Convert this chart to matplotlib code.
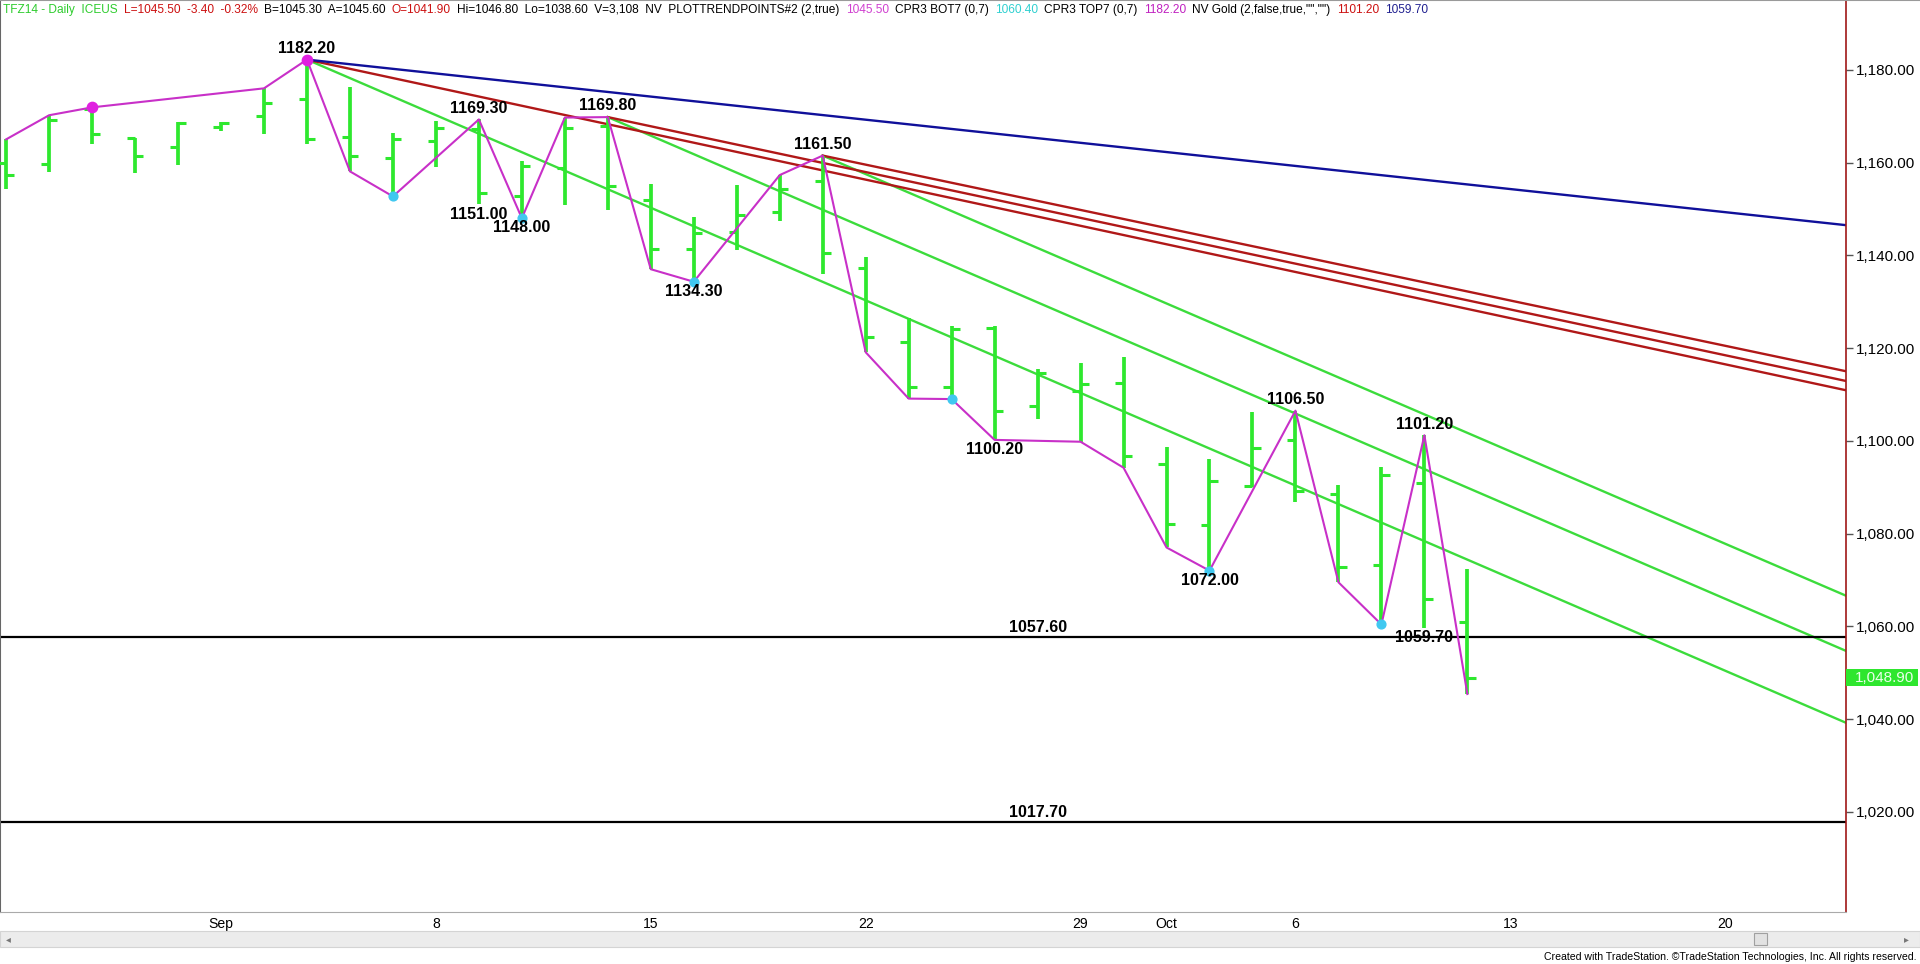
import numpy as np
import pandas as pd
import matplotlib
matplotlib.use("Agg")
from matplotlib import pyplot as plt
from matplotlib import font_manager
from matplotlib.patches import Rectangle
from matplotlib.lines import Line2D

installed = {f.name for f in font_manager.fontManager.ttflist}
if "Liberation Sans Narrow" in installed:
    narrow, nscale = "Liberation Sans Narrow", 1.0
else:
    narrow, nscale = "Liberation Sans", 0.84

# TFZ14 daily bars, Aug 25 - Oct 10 2014
dates = pd.bdate_range("2014-08-25", "2014-10-10")
opens = [1159.9, 1159.7, 1171.5, 1165.2, 1163.4, 1167.7, 1170.1, 1173.7, 1165.6, 1161.0,
         1164.6, 1167.2, 1152.8, 1158.8, 1167.9, 1152.0, 1141.4, 1145.0, 1149.4, 1156.1,
         1137.2, 1121.4, 1111.5, 1124.4, 1107.4, 1110.8, 1112.4, 1095.0, 1081.9, 1090.3,
         1100.2, 1088.5, 1073.2, 1091.0, 1061.0]
highs = [1165.0, 1170.2, 1171.9, 1165.4, 1168.7, 1168.8, 1176.0, 1182.2, 1176.2, 1166.4,
         1169.0, 1169.3, 1160.3, 1169.7, 1169.8, 1155.4, 1148.2, 1155.2, 1157.3, 1161.5,
         1139.6, 1126.4, 1124.8, 1124.8, 1115.5, 1116.7, 1118.0, 1098.6, 1096.1, 1106.2,
         1106.5, 1090.5, 1094.3, 1101.2, 1072.4]
lows = [1154.3, 1157.9, 1163.9, 1157.8, 1159.4, 1166.7, 1166.1, 1163.9, 1158.1, 1152.7,
        1159.1, 1151.0, 1148.0, 1150.9, 1149.8, 1137.0, 1134.3, 1141.2, 1147.5, 1136.0,
        1119.1, 1109.1, 1109.0, 1100.2, 1104.7, 1099.8, 1094.2, 1077.0, 1072.0, 1090.0,
        1086.9, 1069.5, 1060.4, 1059.7, 1045.4]
closes = [1157.4, 1169.2, 1166.2, 1161.5, 1168.5, 1168.6, 1172.8, 1165.1, 1161.5, 1165.0,
          1167.5, 1153.4, 1159.3, 1167.5, 1154.9, 1141.4, 1144.8, 1148.7, 1154.4, 1140.5,
          1122.3, 1111.7, 1124.2, 1106.5, 1114.7, 1112.2, 1096.7, 1082.1, 1091.3, 1098.4,
          1089.2, 1072.7, 1092.6, 1065.9, 1048.9]

# PLOTTRENDPOINTS zigzag
swing_dates = ["2014-08-25", "2014-08-26", "2014-08-27", "2014-09-02", "2014-09-03", "2014-09-04",
               "2014-09-05", "2014-09-09", "2014-09-10", "2014-09-11", "2014-09-12", "2014-09-15",
               "2014-09-16", "2014-09-18", "2014-09-19", "2014-09-22", "2014-09-23", "2014-09-24",
               "2014-09-25", "2014-09-29", "2014-09-30", "2014-10-01", "2014-10-02", "2014-10-06",
               "2014-10-07", "2014-10-08", "2014-10-09", "2014-10-10"]
swing_vals = [1165.0, 1170.2, 1171.9, 1176.0, 1182.2, 1158.1, 1152.7, 1169.3, 1148.0, 1169.7,
              1169.8, 1137.0, 1134.3, 1157.3, 1161.5, 1119.1, 1109.1, 1109.0, 1100.2, 1099.8,
              1094.2, 1077.0, 1072.0, 1106.5, 1069.5, 1060.4, 1101.2, 1045.4]
top_dot_dates = ["2014-08-27", "2014-09-03"]
top_dot_vals = [1171.9, 1182.2]
bot_dot_dates = ["2014-09-05", "2014-09-10", "2014-09-16", "2014-09-24", "2014-10-02", "2014-10-08"]
bot_dot_vals = [1152.7, 1148.0, 1134.3, 1109.0, 1072.0, 1060.4]

# swing labels: date, value, above(1)/below(-1)
lab_dates = ["2014-09-03", "2014-09-09", "2014-09-09", "2014-09-10", "2014-09-12", "2014-09-16",
             "2014-09-19", "2014-09-25", "2014-10-02", "2014-10-06", "2014-10-09", "2014-10-09"]
lab_vals = [1182.2, 1169.3, 1151.0, 1148.0, 1169.8, 1134.3, 1161.5, 1100.2, 1072.0, 1106.5, 1101.2, 1059.7]
lab_side = [1, 1, -1, -1, 1, -1, 1, -1, -1, 1, 1, -1]

# trendlines: anchor date, anchor value, value at right edge
anchor_dates = ["2014-09-03", "2014-09-12", "2014-09-19"]
anchor_vals = [1182.2, 1169.8, 1161.5]
green_end = [1039.2, 1054.7, 1066.6]
red_end = [1110.9, 1112.9, 1115.0]
blue_anchor = ("2014-09-03", 1182.2)
blue_end = 1146.5

levels = [1057.6, 1017.7]
level_label_date = "2014-09-26"

tick_dates = ["2014-09-01", "2014-09-08", "2014-09-15", "2014-09-22", "2014-09-29",
              "2014-10-01", "2014-10-06", "2014-10-13", "2014-10-20"]
tick_labels = ["Sep", "8", "15", "22", "29", "Oct", "6", "13", "20"]

header = [("TFZ14 - Daily  ICEUS", "#2ecc2e"),
          ("L=1045.50  -3.40  -0.32%", "#cc1010"),
          ("B=1045.30  A=1045.60", "black"),
          ("O=1041.90", "#cc1010"),
          ("Hi=1046.80  Lo=1038.60  V=3,108  NV  PLOTTRENDPOINTS#2 (2,true)", "black"),
          ("1045.50", "#d040d0"),
          ("CPR3 BOT7 (0,7)", "black"),
          ("1060.40", "#30d0d0"),
          ("CPR3 TOP7 (0,7)", "black"),
          ("1182.20", "#c020c0"),
          ('NV Gold (2,false,true,"","")', "black"),
          ("1101.20", "#cc1010"),
          ("1059.70", "#202090")]

cal = pd.bdate_range("2014-08-25", "2014-12-31")
def pos(d):
    return cal.get_indexer(pd.to_datetime(d))

bar_green = "#2ee82e"
W, H = 1920, 964
fig = plt.figure(figsize=(W / 100, H / 100), dpi=100)
ax = fig.add_axes([0, 52 / H, 1846 / W, 912 / H])
x_left, x_right = -0.142, 42.81
ax.set_xlim(x_left, x_right)
ax.set_ylim(998.4, 1195.05)

x = np.arange(len(dates))
ax.vlines(x, lows, highs, color=bar_green, lw=2.7, zorder=3)
ax.hlines(opens, x - 0.19, x, color=bar_green, lw=2.2, zorder=3)
ax.hlines(closes, x, x + 0.19, color=bar_green, lw=2.2, zorder=3)

for d, v, ve in zip(anchor_dates, anchor_vals, green_end):
    ax.plot([pos([d])[0], x_right], [v, ve], color="#3cdc3c", lw=1.7, zorder=2)
for d, v, ve in zip(anchor_dates, anchor_vals, red_end):
    ax.plot([pos([d])[0], x_right], [v, ve], color="#b01818", lw=1.7, zorder=2)
ax.plot([pos([blue_anchor[0]])[0], x_right], [blue_anchor[1], blue_end], color="#10109a", lw=1.7, zorder=2)

ax.plot(pos(swing_dates), swing_vals, color="#c830c8", lw=1.5, zorder=4)
ax.scatter(pos(top_dot_dates), top_dot_vals, s=55, color="#e020e0", zorder=5)
ax.scatter(pos(bot_dot_dates), bot_dot_vals, s=40, color="#40c8f0", zorder=5)

for lv in levels:
    ax.axhline(lv, color="black", lw=1.6, zorder=2)
    ax.annotate(f"{lv:.2f}", (pos([level_label_date])[0], lv), xytext=(0, 7.5),
                textcoords="offset points", ha="center", va="center", fontsize=11.5,
                fontweight="bold", family="Liberation Sans", zorder=6)

for d, v, s in zip(lab_dates, lab_vals, lab_side):
    ax.annotate(f"{v:.2f}", (pos([d])[0], v), xytext=(0, 8 if s > 0 else -7),
                textcoords="offset points", ha="center", va="center", fontsize=11.5,
                fontweight="bold", family="Liberation Sans", zorder=6)

# price axis
ax.yaxis.tick_right()
ax.set_yticks(np.arange(1020, 1181, 20))
ax.yaxis.set_major_formatter(lambda v, p: f"{v:,.2f}")
ax.tick_params(axis="y", length=5, width=1, color="#555555", pad=2, labelsize=11)
for lbl in ax.get_yticklabels():
    lbl.set_family("Liberation Sans")
ax.set_xticks(pos(tick_dates), tick_labels)
ax.tick_params(axis="x", length=0, pad=3.5, labelsize=12 * nscale)
for lbl in ax.get_xticklabels():
    lbl.set_family(narrow)

ax.spines["top"].set_visible(False)
ax.spines["left"].set_color("#666666")
ax.spines["left"].set_linewidth(1.5)
ax.spines["right"].set_color("#a01818")
ax.spines["right"].set_linewidth(1.2)
ax.spines["bottom"].set_color("#aaaaaa")
ax.spines["bottom"].set_linewidth(0.8)

# last price box
ax.add_patch(Rectangle((1.0, closes[-1] - 1.8), 0.039, 3.6, transform=ax.get_yaxis_transform(),
                       fc="#2ee62e", ec="none", clip_on=False, zorder=6))
ax.annotate(f"{closes[-1]:,.2f}", (1.0, closes[-1]), xycoords=ax.get_yaxis_transform(),
            xytext=(6.5, 0), textcoords="offset points", ha="left", va="center",
            color="#eaffea", fontsize=11, family="Liberation Sans", annotation_clip=False, zorder=7)

# header line
prev = None
for txt, col in header:
    if prev is None:
        prev = ax.annotate(txt, (3, H - 10), xycoords="figure pixels", ha="left", va="center",
                           color=col, fontsize=10.2 * nscale, family=narrow, annotation_clip=False)
    else:
        prev = ax.annotate(txt, (1, 0.5), xycoords=prev, xytext=(4.5, 0), textcoords="offset points",
                           ha="left", va="center", color=col, fontsize=10.2 * nscale,
                           family=narrow, annotation_clip=False)

# scrollbar and footer
fig.add_artist(Rectangle((0, 17 / H), 1, 16 / H, transform=fig.transFigure,
                         fc="#ececec", ec="#d4d4d4", lw=0.8))
fig.add_artist(Rectangle((1754 / W, 19 / H), 13 / W, 12 / H, transform=fig.transFigure,
                         fc="#e2e2e2", ec="#a0a0a0", lw=0.8))
fig.text(6 / W, 25 / H, "◂", fontsize=7, color="#777777", va="center")
fig.text(1904 / W, 25 / H, "▸", fontsize=7, color="#777777", va="center")
fig.add_artist(Line2D([0, 1], [1, 1], transform=fig.transFigure, color="#9a9a9a", lw=1.5))
fig.text(1916 / W, 7 / H, "Created with TradeStation. ©TradeStation Technologies, Inc. All rights reserved.",
         ha="right", va="center", fontsize=9 * nscale, family=narrow)

fig.savefig("out.png", dpi=100)
